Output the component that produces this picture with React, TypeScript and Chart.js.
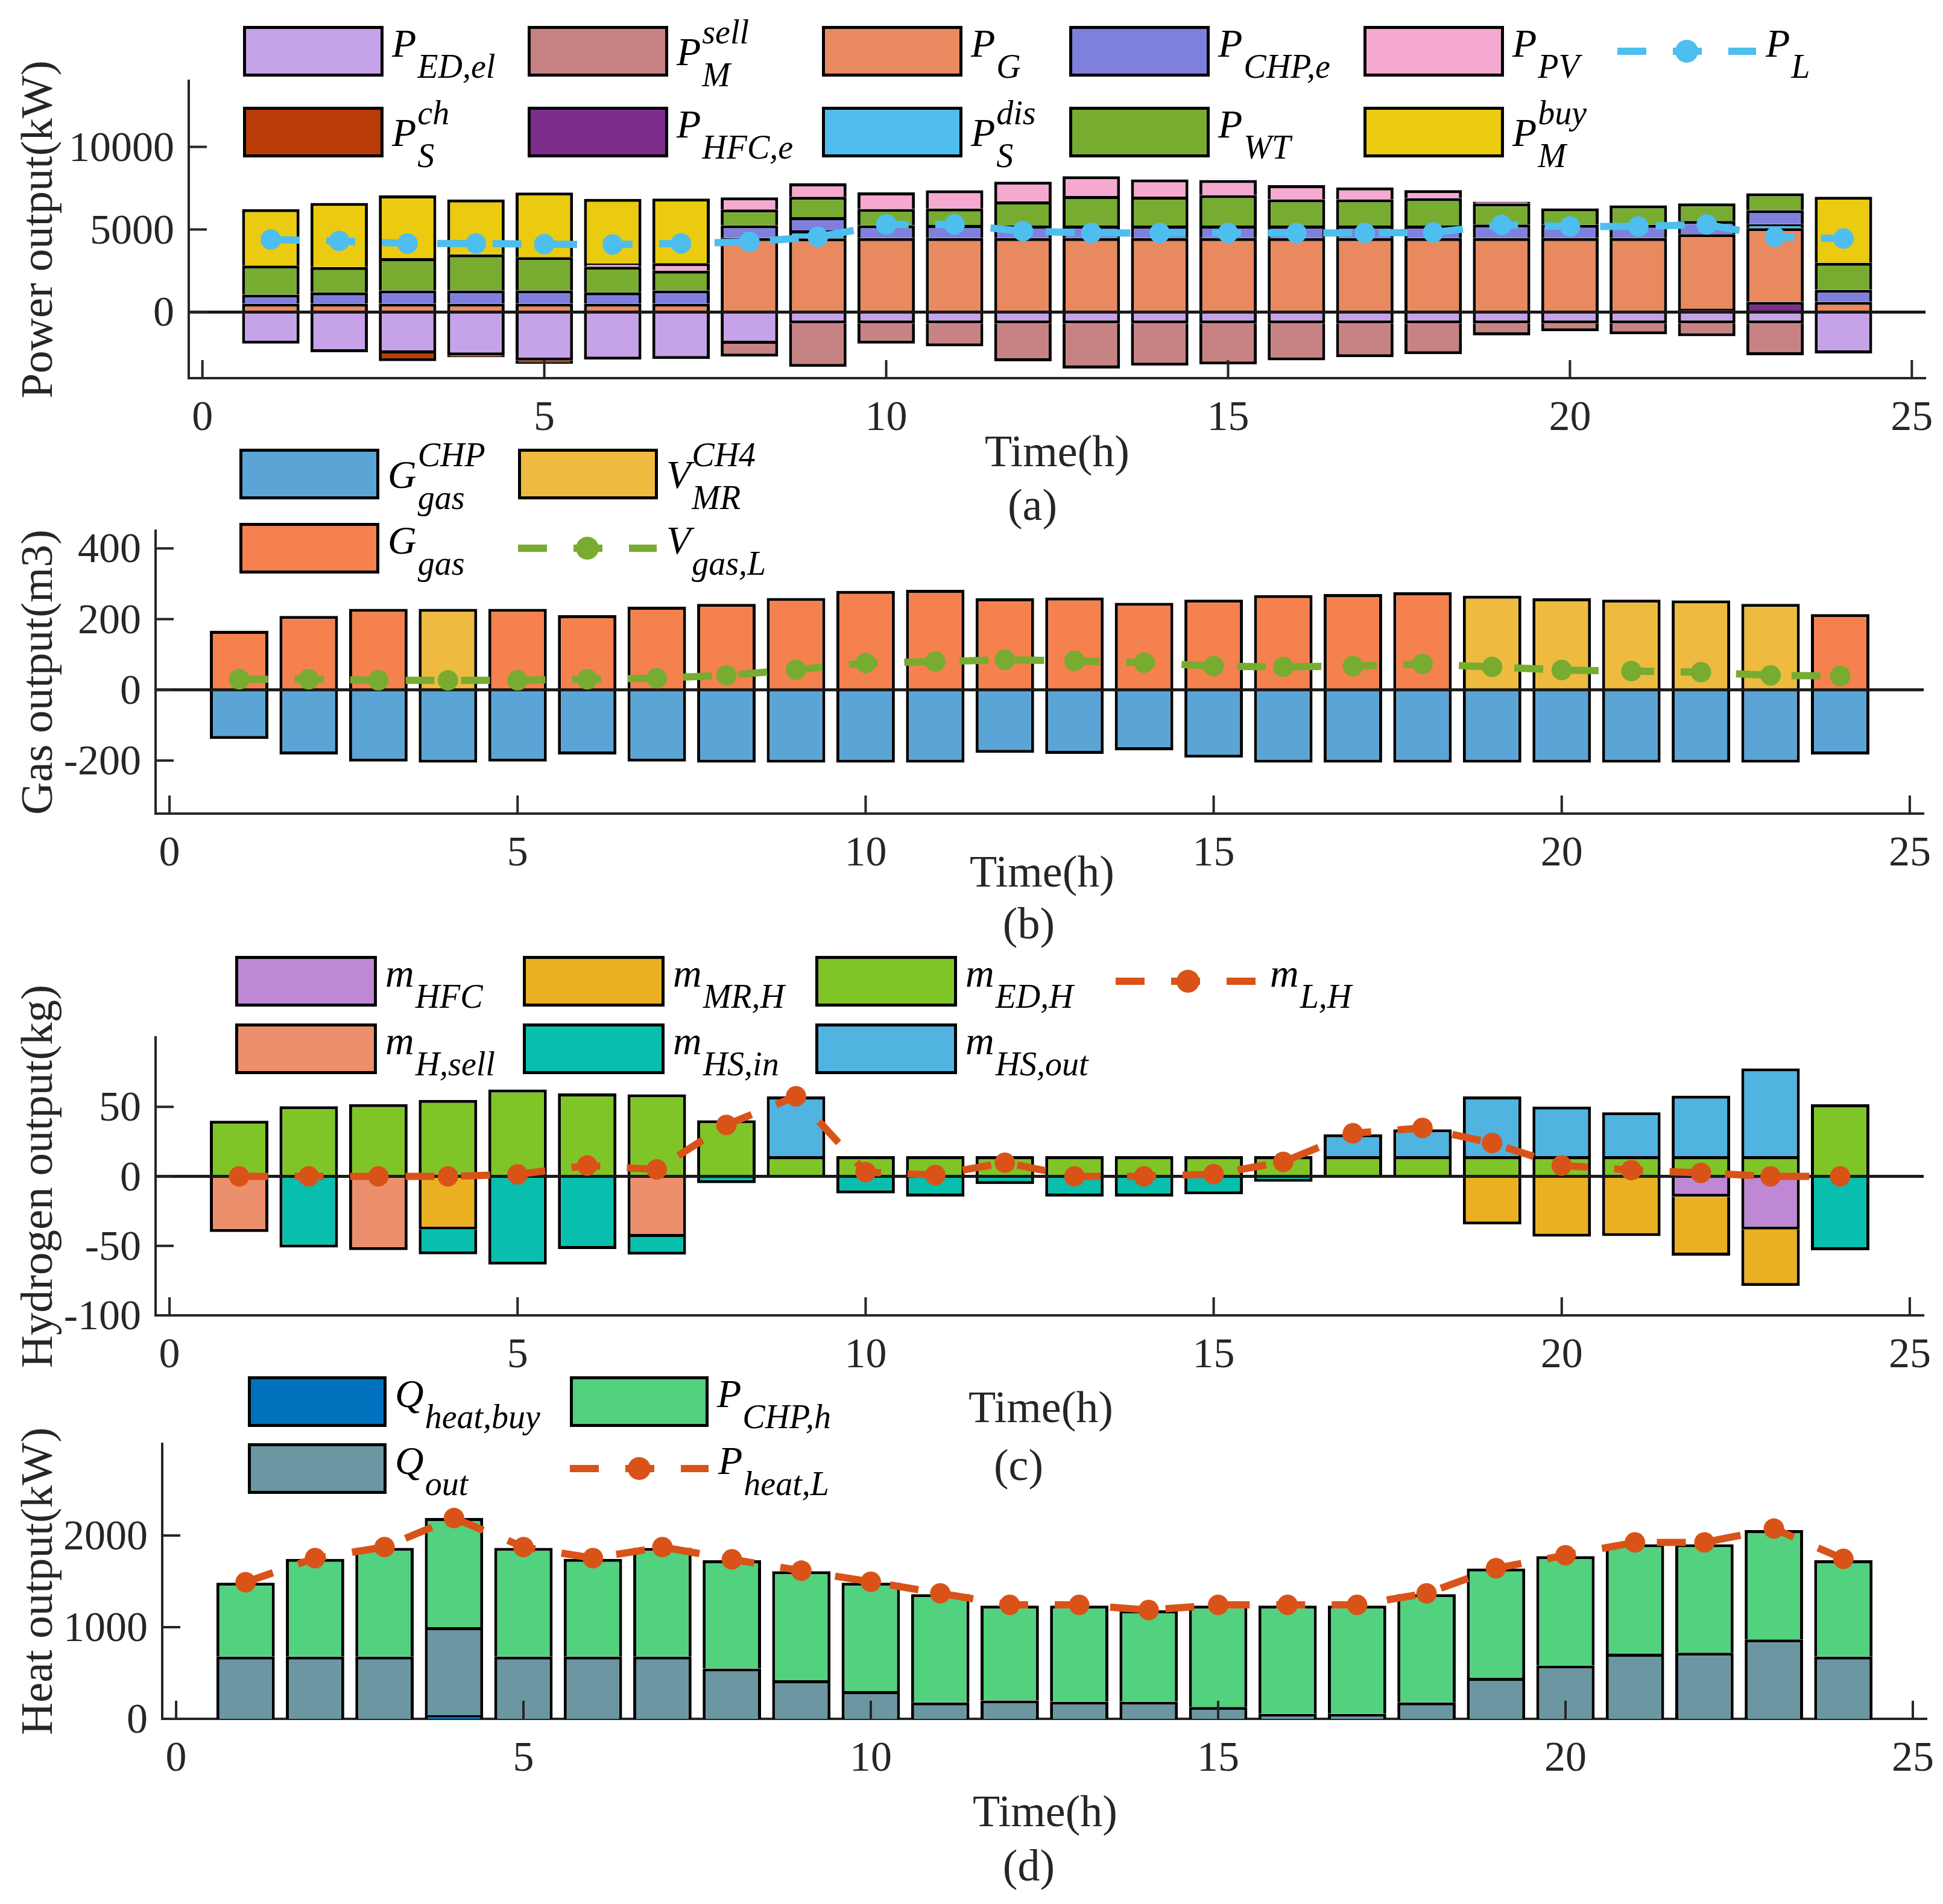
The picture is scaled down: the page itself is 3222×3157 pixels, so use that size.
import React, { useEffect, useRef } from 'react';
import { Chart, registerables } from 'chart.js';

Chart.register(...registerables);

const PAGE_W = 3222;
const PAGE_H = 3157;
const SERIF = '"Liberation Serif"';
const AXIS_COLOR = '#262626';
Chart.defaults.font.family = SERIF;

// ---------- shared ----------
const hours = [1, 2, 3, 4, 5, 6, 7, 8, 9, 10, 11, 12, 13, 14, 15, 16, 17, 18, 19, 20, 21, 22, 23, 24];
const xTickValues = [0, 5, 10, 15, 20, 25];

// ---------- panel (a): power ----------
const powerTicks = [0, 5000, 10000];
const P_ED_el = [-1910, -2430, -2500, -2620, -2930, -2880, -2840, -1920, -690, -690, -690, -690, -690, -690, -690, -690, -690, -690, -690, -690, -690, -690, -690, -2500];
const P_S_ch = [0, 0, -470, -110, -200, 0, 0, 0, 0, 0, 0, 0, 0, 0, 0, 0, 0, 0, 0, 0, 0, 0, 0, 0];
const P_M_sell = [0, 0, 0, 0, 0, 0, 0, -775, -2625, -1220, -1380, -2290, -2730, -2550, -2480, -2230, -2045, -1860, -715, -470, -650, -775, -1925, 0];
const P_HFC_e = [0, 0, 0, 0, 0, 0, 0, 0, 0, 0, 0, 0, 0, 0, 0, 0, 0, 0, 0, 0, 0, 200, 620, 0];
const P_G = [510, 510, 510, 510, 510, 510, 510, 4480, 4460, 4480, 4480, 4480, 4480, 4480, 4480, 4480, 4480, 4480, 4480, 4480, 4480, 4520, 4460, 620];
const P_S_dis = [0, 0, 0, 0, 0, 0, 0, 0, 485, 0, 0, 0, 0, 0, 0, 0, 0, 0, 0, 0, 0, 0, 240, 0];
const P_CHP_e = [545, 680, 800, 800, 800, 680, 800, 780, 800, 780, 790, 760, 760, 760, 760, 760, 760, 760, 820, 800, 800, 800, 850, 730];
const P_WT = [1760, 1540, 1960, 2180, 2020, 1560, 1200, 950, 1234, 985, 1000, 1460, 1790, 1750, 1840, 1585, 1585, 1660, 1280, 1000, 1180, 1060, 1020, 1630];
const P_PV = [0, 0, 0, 0, 0, 190, 450, 730, 810, 1000, 1100, 1190, 1190, 1040, 910, 860, 725, 485, 100, 0, 0, 0, 0, 0];
const P_M_buy = [3420, 3880, 3790, 3330, 3910, 3910, 3910, 0, 0, 0, 0, 0, 0, 0, 0, 0, 0, 0, 0, 0, 0, 0, 0, 4000];
const P_L = [4390, 4310, 4150, 4150, 4110, 4090, 4150, 4250, 4550, 5300, 5300, 4900, 4790, 4790, 4790, 4790, 4790, 4820, 5280, 5180, 5180, 5300, 4550, 4450];

// ---------- panel (b): gas ----------
const gasTicks = [-200, 0, 200, 400];
const G_gas_CHP = [-139, -183, -203, -206, -203, -183, -203, -206, -206, -206, -206, -178, -181, -171, -192, -206, -206, -206, -206, -206, -206, -206, -206, -183];
const G_gas = [167, 209, 229, 0, 229, 211, 235, 243, 260, 280, 283, 259, 261, 246, 255, 268, 271, 276, 0, 0, 0, 0, 0, 214];
const V_MR_CH4 = [0, 0, 0, 229, 0, 0, 0, 0, 0, 0, 0, 0, 0, 0, 0, 0, 0, 0, 266, 259, 255, 253, 243, 0];
const V_gas_L = [30, 30, 27, 27, 27, 30, 33, 41, 57, 76, 80, 85, 82, 77, 67, 65, 67, 73, 65, 56, 53, 50, 41, 39];

// ---------- panel (c): hydrogen ----------
const h2Ticks = [-100, -50, 0, 50];
const m_HFC = [0, 0, 0, 0, 0, 0, 0, 0, 0, 0, 0, 0, 0, 0, 0, 0, 0, 0, 0, 0, 0, -14.6, -38.3, 0];
const m_H_sell = [-40, 0, -53, 0, 0, 0, -43.6, 0, 0, 0, 0, 0, 0, 0, 0, 0, 0, 0, 0, 0, 0, 0, 0, 0];
const m_MR_H = [0, 0, 0, -38.3, 0, 0, 0, 0, 0, 0, 0, 0, 0, 0, 0, 0, 0, 0, -34.6, -43.4, -43, -42.4, -40.6, 0];
const m_HS_in = [0, -51.2, 0, -17.8, -63.5, -52.3, -12.7, -4.9, 0, -12.3, -14.5, -5.5, -14.5, -14.5, -12.9, -3.9, 0, 0, 0, 0, 0, 0, 0, -53.1];
const m_ED_H = [40, 50.4, 52, 55, 62.5, 59.6, 59, 40.4, 14.5, 14.5, 14.5, 14.5, 14.5, 14.5, 14.5, 14.5, 14.5, 14.5, 14.5, 14.5, 14.5, 14.5, 14.5, 51.8];
const m_HS_out = [0, 0, 0, 0, 0, 0, 0, 0, 43, 0, 0, 0, 0, 0, 0, 0, 15.8, 19.3, 43, 35.7, 31.6, 43.5, 63.2, 0];
const m_L_H = [0, 0, 0, 0, 1.4, 7.8, 5, 37, 57.6, 3, 1, 9.8, 0, 0, 1.6, 10.4, 31, 34.8, 24, 7.8, 4.5, 2.5, 0, 0];

// ---------- panel (d): heat ----------
const heatTicks = [0, 1000, 2000];
const Q_heat_buy = [0, 0, 0, 40, 0, 0, 0, 0, 0, 0, 0, 0, 0, 0, 0, 0, 0, 0, 0, 0, 0, 0, 0, 0];
const Q_out = [680, 680, 680, 960, 680, 680, 680, 550, 421, 303, 180, 201, 188, 188, 130, 54, 54, 180, 448, 583, 711, 722, 867, 680];
const P_CHP_h = [805, 1065, 1185, 1190, 1185, 1065, 1185, 1180, 1189, 1182, 1180, 1034, 1047, 997, 1105, 1181, 1181, 1180, 1192, 1192, 1194, 1183, 1193, 1050];
const P_heat_L = [1490, 1753, 1874, 2190, 1874, 1753, 1874, 1740, 1616, 1495, 1369, 1243, 1243, 1187, 1243, 1243, 1243, 1369, 1643, 1785, 1925, 1925, 2075, 1745];

// ---------- types ----------
type Series = { data: number[]; color: string };
type LegendEntry = { kind: 'box' | 'line'; color: string; base: string; sub?: string; sup?: string; x: number; row: number };
interface PanelSpec {
  area: { left: number; top: number; right: number; bottom: number };
  xRange: [number, number];
  yRange: [number, number];
  yTicks: number[];
  bars: Series[];
  line: Series;
  barPct: number;
  zeroLine: boolean;
  yTitle: string;
  caption: string;
  xTitleAt: [number, number];
  captionAt: [number, number];
  legendRowY: [number, number];
  boxW: number;
  lineW: number;
  legend: LegendEntry[];
}

const C = {
  ED: '#C6A3E8', Sch: '#B93B07', sell: '#C78383', HFC: '#7D2E8D', G: '#E8895F', Sdis: '#4FBEEE',
  CHP: '#7F80DD', WT: '#78AC31', PV: '#F5A9D0', buy: '#EBCB10', L: '#4DBEEE',
  gCHP: '#5BA5D6', vMR: '#EEBB40', gGas: '#F5814F', vL: '#77AC30',
  mHFC: '#BE88D4', mMR: '#EBB022', mED: '#80C528', mSell: '#EC8F6C', mIn: '#08BFAD', mOut: '#50B3E0', mL: '#D95319',
  qBuy: '#0072BD', pCHPh: '#52D17F', qOut: '#6B96A2', pHeat: '#D95319',
};

const panels: PanelSpec[] = [
  {
    area: { left: 313, top: 134, right: 3193, bottom: 627 },
    xRange: [-0.2, 25.2], yRange: [-4000, 14000], yTicks: powerTicks,
    bars: [
      { data: P_ED_el, color: C.ED }, { data: P_S_ch, color: C.Sch }, { data: P_M_sell, color: C.sell },
      { data: P_HFC_e, color: C.HFC }, { data: P_G, color: C.G }, { data: P_S_dis, color: C.Sdis },
      { data: P_CHP_e, color: C.CHP }, { data: P_WT, color: C.WT }, { data: P_PV, color: C.PV },
      { data: P_M_buy, color: C.buy },
    ],
    line: { data: P_L, color: C.L }, barPct: 0.84, zeroLine: true,
    yTitle: 'Power output(kW)', caption: '(a)', xTitleAt: [1753, 754], captionAt: [1712, 843],
    legendRowY: [85, 219], boxW: 233, lineW: 230,
    legend: [
      { kind: 'box', color: C.ED, base: 'P', sub: 'ED,el', x: 403, row: 0 },
      { kind: 'box', color: C.sell, base: 'P', sub: 'M', sup: 'sell', x: 875, row: 0 },
      { kind: 'box', color: C.G, base: 'P', sub: 'G', x: 1363, row: 0 },
      { kind: 'box', color: C.CHP, base: 'P', sub: 'CHP,e', x: 1773, row: 0 },
      { kind: 'box', color: C.PV, base: 'P', sub: 'PV', x: 2261, row: 0 },
      { kind: 'line', color: C.L, base: 'P', sub: 'L', x: 2682, row: 0 },
      { kind: 'box', color: C.Sch, base: 'P', sub: 'S', sup: 'ch', x: 403, row: 1 },
      { kind: 'box', color: C.HFC, base: 'P', sub: 'HFC,e', x: 875, row: 1 },
      { kind: 'box', color: C.Sdis, base: 'P', sub: 'S', sup: 'dis', x: 1363, row: 1 },
      { kind: 'box', color: C.WT, base: 'P', sub: 'WT', x: 1773, row: 1 },
      { kind: 'box', color: C.buy, base: 'P', sub: 'M', sup: 'buy', x: 2261, row: 1 },
    ],
  },
  {
    area: { left: 258, top: 880, right: 3190, bottom: 1349 },
    xRange: [-0.2, 25.2], yRange: [-350, 450], yTicks: gasTicks,
    bars: [
      { data: G_gas_CHP, color: C.gCHP }, { data: G_gas, color: C.gGas }, { data: V_MR_CH4, color: C.vMR },
    ],
    line: { data: V_gas_L, color: C.vL }, barPct: 0.84, zeroLine: true,
    yTitle: 'Gas output(m3)', caption: '(b)', xTitleAt: [1728, 1451], captionAt: [1706, 1537],
    legendRowY: [786, 909], boxW: 232, lineW: 230,
    legend: [
      { kind: 'box', color: C.gCHP, base: 'G', sub: 'gas', sup: 'CHP', x: 397, row: 0 },
      { kind: 'box', color: C.vMR, base: 'V', sub: 'MR', sup: 'CH4', x: 859, row: 0 },
      { kind: 'box', color: C.gGas, base: 'G', sub: 'gas', x: 397, row: 1 },
      { kind: 'line', color: C.vL, base: 'V', sub: 'gas,L', x: 859, row: 1 },
    ],
  },
  {
    area: { left: 258, top: 1720, right: 3190, bottom: 2181 },
    xRange: [-0.2, 25.2], yRange: [-100, 100], yTicks: h2Ticks,
    bars: [
      { data: m_HFC, color: C.mHFC }, { data: m_H_sell, color: C.mSell }, { data: m_MR_H, color: C.mMR },
      { data: m_HS_in, color: C.mIn }, { data: m_ED_H, color: C.mED }, { data: m_HS_out, color: C.mOut },
    ],
    line: { data: m_L_H, color: C.mL }, barPct: 0.84, zeroLine: true,
    yTitle: 'Hydrogen output(kg)', caption: '(c)', xTitleAt: [1726, 2339], captionAt: [1689, 2435],
    legendRowY: [1627, 1739], boxW: 235, lineW: 240,
    legend: [
      { kind: 'box', color: C.mHFC, base: 'm', sub: 'HFC', x: 390, row: 0 },
      { kind: 'box', color: C.mMR, base: 'm', sub: 'MR,H', x: 867, row: 0 },
      { kind: 'box', color: C.mED, base: 'm', sub: 'ED,H', x: 1352, row: 0 },
      { kind: 'line', color: C.mL, base: 'm', sub: 'L,H', x: 1850, row: 0 },
      { kind: 'box', color: C.mSell, base: 'm', sub: 'H,sell', x: 390, row: 1 },
      { kind: 'box', color: C.mIn, base: 'm', sub: 'HS,in', x: 867, row: 1 },
      { kind: 'box', color: C.mOut, base: 'm', sub: 'HS,out', x: 1352, row: 1 },
    ],
  },
  {
    area: { left: 269, top: 2394, right: 3195, bottom: 2850 },
    xRange: [-0.2, 25.2], yRange: [0, 3000], yTicks: heatTicks,
    bars: [
      { data: Q_heat_buy, color: C.qBuy }, { data: Q_out, color: C.qOut }, { data: P_CHP_h, color: C.pCHPh },
    ],
    line: { data: P_heat_L, color: C.pHeat }, barPct: 0.84, zeroLine: false,
    yTitle: 'Heat output(kW)', caption: '(d)', xTitleAt: [1733, 3009], captionAt: [1706, 3099],
    legendRowY: [2324, 2435], boxW: 230, lineW: 230,
    legend: [
      { kind: 'box', color: C.qBuy, base: 'Q', sub: 'heat,buy', x: 411, row: 0 },
      { kind: 'box', color: C.pCHPh, base: 'P', sub: 'CHP,h', x: 945, row: 0 },
      { kind: 'box', color: C.qOut, base: 'Q', sub: 'out', x: 411, row: 1 },
      { kind: 'line', color: C.pHeat, base: 'P', sub: 'heat,L', x: 945, row: 1 },
    ],
  },
];

const X_AXIS_H = 100;
const LINE_DASH = [48, 44];
const TICK_FONT = `normal 400 70px ${SERIF}`;

function drawMath(ctx: CanvasRenderingContext2D, x: number, cy: number, e: LegendEntry) {
  const baseY = cy + (e.sup ? 23 : 9);
  ctx.fillStyle = '#000';
  ctx.textAlign = 'left';
  ctx.textBaseline = 'alphabetic';
  ctx.font = `italic 400 66px ${SERIF}`;
  ctx.fillText(e.base, x, baseY);
  const w = ctx.measureText(e.base).width;
  ctx.font = `italic 400 56px ${SERIF}`;
  if (e.sup) ctx.fillText(e.sup, x + w + 2, baseY - 36);
  if (e.sub) ctx.fillText(e.sub, x + w + 2, baseY + 35);
}

function drawLegend(ctx: CanvasRenderingContext2D, spec: PanelSpec) {
  spec.legend.forEach((e) => {
    const cy = spec.legendRowY[e.row];
    let textX = 0;
    if (e.kind === 'box') {
      ctx.fillStyle = e.color;
      ctx.fillRect(e.x, cy - 42, spec.boxW, 84);
      ctx.lineWidth = 5;
      ctx.strokeStyle = '#000';
      ctx.setLineDash([]);
      ctx.strokeRect(e.x + 2.5, cy - 39.5, spec.boxW - 5, 79);
      textX = e.x + spec.boxW + 14;
    } else {
      ctx.save();
      ctx.strokeStyle = e.color;
      ctx.lineWidth = 12;
      ctx.setLineDash(LINE_DASH);
      ctx.beginPath();
      ctx.moveTo(e.x, cy);
      ctx.lineTo(e.x + spec.lineW, cy);
      ctx.stroke();
      ctx.restore();
      ctx.fillStyle = e.color;
      ctx.beginPath();
      ctx.arc(e.x + spec.lineW / 2, cy, 19, 0, Math.PI * 2);
      ctx.fill();
      textX = e.x + spec.lineW + 16;
    }
    drawMath(ctx, textX, cy, e);
  });
}

function makeChart(canvas: HTMLCanvasElement, spec: PanelSpec): Chart {
  const a = spec.area;
  const datasets: any[] = spec.bars.map((b) => ({
    type: 'bar',
    data: hours.map((h, i) => ({ x: h, y: b.data[i] })),
    backgroundColor: b.color,
    borderColor: '#000',
    borderWidth: 5,
    borderSkipped: 'start',
    order: 1,
    barPercentage: spec.barPct,
    categoryPercentage: 1,
    xAxisID: 'x',
    yAxisID: 'y',
  }));
  datasets.push({
    type: 'line',
    data: hours.map((h, i) => ({ x: h, y: spec.line.data[i] })),
    borderColor: spec.line.color,
    backgroundColor: spec.line.color,
    borderWidth: 12,
    borderDash: LINE_DASH,
    pointRadius: 17,
    pointHoverRadius: 17,
    pointBorderWidth: 0,
    pointBackgroundColor: spec.line.color,
    pointBorderColor: spec.line.color,
    fill: false,
    tension: 0,
    order: 0,
    xAxisID: 'x',
    yAxisID: 'yL',
  });

  const decor = {
    id: 'decor',
    afterDatasetDraw(chart: any, args: any) {
      if (!spec.zeroLine || args.index !== 0) return;
      const ctx = chart.ctx as CanvasRenderingContext2D;
      const y0 = chart.scales.y.getPixelForValue(0);
      ctx.save();
      ctx.strokeStyle = '#1a1a1a';
      ctx.lineWidth = 5;
      ctx.setLineDash([]);
      ctx.beginPath();
      ctx.moveTo(chart.chartArea.left, y0);
      ctx.lineTo(chart.chartArea.right, y0);
      ctx.stroke();
      ctx.restore();
    },
    afterDraw(chart: any) {
      const ctx = chart.ctx as CanvasRenderingContext2D;
      const ca = chart.chartArea;
      const xs = chart.scales.x;
      const ys = chart.scales.y;
      ctx.save();
      ctx.strokeStyle = AXIS_COLOR;
      ctx.fillStyle = AXIS_COLOR;
      ctx.lineWidth = 4;
      ctx.setLineDash([]);
      ctx.font = TICK_FONT;
      ctx.textBaseline = 'alphabetic';
      ctx.textAlign = 'center';
      xTickValues.forEach((v) => {
        const px = xs.getPixelForValue(v);
        ctx.beginPath();
        ctx.moveTo(px, ca.bottom);
        ctx.lineTo(px, ca.bottom - 30);
        ctx.stroke();
        ctx.fillText(String(v), px, ca.bottom + 86);
      });
      ctx.textAlign = 'right';
      spec.yTicks.forEach((v) => {
        const py = ys.getPixelForValue(v);
        ctx.beginPath();
        ctx.moveTo(ca.left, py);
        ctx.lineTo(ca.left + 30, py);
        ctx.stroke();
        ctx.fillText(String(v), ca.left - 24, py + 23);
      });
      // axis titles and caption
      ctx.font = `normal 400 74px ${SERIF}`;
      ctx.textAlign = 'center';
      ctx.textBaseline = 'middle';
      ctx.fillText('Time(h)', spec.xTitleAt[0], spec.xTitleAt[1]);
      ctx.fillText(spec.caption, spec.captionAt[0], spec.captionAt[1]);
      ctx.save();
      ctx.translate(86, (ca.top + ca.bottom) / 2);
      ctx.rotate(-Math.PI / 2);
      ctx.font = `normal 400 75px ${SERIF}`;
      ctx.textBaseline = 'alphabetic';
      ctx.fillText(spec.yTitle, 0, 0);
      ctx.restore();
      drawLegend(ctx, spec);
      ctx.restore();
    },
  };

  return new Chart(canvas, {
    type: 'bar',
    data: { datasets },
    options: {
      responsive: false,
      animation: false,
      devicePixelRatio: 1,
      events: [],
      layout: {
        autoPadding: false,
        padding: { left: 0, top: a.top, right: PAGE_W - a.right, bottom: PAGE_H - a.bottom - X_AXIS_H },
      },
      plugins: { legend: { display: false }, tooltip: { enabled: false }, title: { display: false } },
      scales: {
        x: {
          type: 'linear',
          min: spec.xRange[0],
          max: spec.xRange[1],
          offset: false,
          stacked: true,
          grid: { display: false, drawTicks: false },
          border: { display: true, color: AXIS_COLOR, width: 4 },
          ticks: { display: false },
          afterBuildTicks: (s: any) => { s.ticks = xTickValues.map((v) => ({ value: v })); },
          afterFit: (s: any) => { s.height = X_AXIS_H; s.paddingLeft = 0; s.paddingRight = 0; },
        },
        y: {
          type: 'linear',
          min: spec.yRange[0],
          max: spec.yRange[1],
          stacked: true,
          grid: { display: false, drawTicks: false },
          border: { display: true, color: AXIS_COLOR, width: 4 },
          ticks: { display: false },
          afterBuildTicks: (s: any) => { s.ticks = spec.yTicks.map((v) => ({ value: v })); },
          afterFit: (s: any) => { s.width = a.left; s.paddingTop = 0; s.paddingBottom = 0; },
        },
        yL: {
          type: 'linear',
          display: false,
          min: spec.yRange[0],
          max: spec.yRange[1],
          stacked: false,
        },
      },
    } as any,
    plugins: [decor],
  });
}

export default function App() {
  const r0 = useRef<HTMLCanvasElement>(null);
  const r1 = useRef<HTMLCanvasElement>(null);
  const r2 = useRef<HTMLCanvasElement>(null);
  const r3 = useRef<HTMLCanvasElement>(null);

  useEffect(() => {
    document.body.style.margin = '0';
    document.body.style.overflow = 'hidden';
    const refs = [r0, r1, r2, r3];
    const charts = panels.map((p, i) => makeChart(refs[i].current as HTMLCanvasElement, p));
    return () => charts.forEach((c) => c.destroy());
  }, []);

  const style: React.CSSProperties = { position: 'absolute', left: 0, top: 0, width: PAGE_W, height: PAGE_H };
  return (
    <div style={{ position: 'absolute', left: 0, top: 0, width: PAGE_W, height: PAGE_H, background: '#fff', overflow: 'hidden' }}>
      <canvas ref={r0} width={PAGE_W} height={PAGE_H} style={style} />
      <canvas ref={r1} width={PAGE_W} height={PAGE_H} style={style} />
      <canvas ref={r2} width={PAGE_W} height={PAGE_H} style={style} />
      <canvas ref={r3} width={PAGE_W} height={PAGE_H} style={style} />
    </div>
  );
}
